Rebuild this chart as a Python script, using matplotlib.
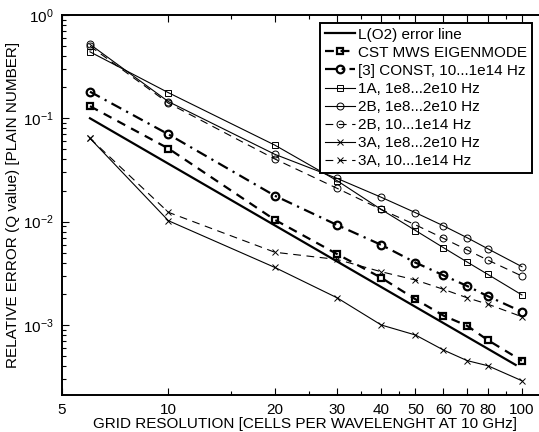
import numpy as np
import matplotlib
matplotlib.use("Agg")
import matplotlib.pyplot as plt
from matplotlib.ticker import FixedLocator, FixedFormatter, LogLocator, NullFormatter

# grid resolution (cells per wavelength)
cells = [6, 10, 20, 30, 40, 50, 60, 70, 80, 100]

# reference 2nd order error line (two end points)
o2_cells = [6, 96]
o2_err = [0.1, 4.1e-4]

cst_eigen = [0.131, 0.051, 0.0104, 0.00485, 0.00286, 0.00177, 0.00123, 0.00098, 0.000714, 0.00045]
const_ref3 = [0.181, 0.070, 0.0178, 0.00927, 0.00595, 0.00401, 0.00302, 0.00238, 0.0019, 0.00134]
a1_low = [0.44, 0.177, 0.055, 0.0249, 0.0131, 0.0082, 0.00559, 0.00406, 0.00309, 0.00195]
b2_low = [0.52, 0.145, 0.0448, 0.0262, 0.0172, 0.0122, 0.0091, 0.00698, 0.00547, 0.00366]
b2_wide = [0.50, 0.140, 0.0404, 0.021, 0.0131, 0.0093, 0.00689, 0.00531, 0.00425, 0.00297]
a3_low = [0.064, 0.0102, 0.0036, 0.00183, 0.000998, 0.000798, 0.000571, 0.000451, 0.000403, 0.000288]
a3_wide = [0.064, 0.0123, 0.00505, 0.0043, 0.00327, 0.00272, 0.00221, 0.00183, 0.00159, 0.0012]

xticks = [5, 10, 20, 30, 40, 50, 60, 70, 80, 100]
xminor = [15, 25, 35, 45, 90]

plt.rcParams['font.family'] = ['Liberation Sans', 'DejaVu Sans']
plt.rcParams['mathtext.fontset'] = 'custom'
plt.rcParams['mathtext.rm'] = 'Liberation Sans'
plt.rcParams['mathtext.it'] = 'Liberation Sans'

W, H = 539, 432
# right edge of the box sits just outside the picture, as in the original
x_right = 548
fig = plt.figure(figsize=(W / 100, H / 100), dpi=100)
ax = fig.add_axes([62 / W, 37 / H, (x_right - 62) / W, (395 - 15) / H])

thin = dict(color='black', lw=0.8, ms=5, mfc='none', mew=0.7)
ax.plot(o2_cells, o2_err, color='black', lw=1.6, label='L(O2) error line')
ax.plot(cells, cst_eigen, color='black', lw=1.6, ls=(0, (4, 3)), marker='s', ms=4.5,
        mfc='none', mew=1.6, label='CST MWS EIGENMODE')
ax.plot(cells, const_ref3, color='black', lw=1.6, ls=(0, (5, 2.5, 1, 2.5)), marker='o', ms=5.5,
        mfc='none', mew=1.6, label='[3] CONST, 10...1e14 Hz')
ax.plot(cells, a1_low, ls='-', marker='s', label='1A, 1e8...2e10 Hz', **thin)
ax.plot(cells, b2_low, ls='-', marker='o', label='2B, 1e8...2e10 Hz', **thin)
ax.plot(cells, b2_wide, ls=(0, (7, 5)), marker='o', label='2B, 10...1e14 Hz', **thin)
ax.plot(cells, a3_low, ls='-', marker='x', label='3A, 1e8...2e10 Hz', **thin)
ax.plot(cells, a3_wide, ls=(0, (7, 5)), marker='x', label='3A, 10...1e14 Hz', **thin)

ax.set_xscale('log')
ax.set_yscale('log')
ax.set_xlim(5, 5 * 10 ** ((x_right - 62) / 353.5))
ax.set_ylim(10 ** (-(395 - 15) / 103.3), 1.0)

ax.xaxis.set_major_locator(FixedLocator(xticks))
ax.xaxis.set_major_formatter(FixedFormatter([str(t) for t in xticks]))
ax.xaxis.set_minor_locator(FixedLocator(xminor))
ax.xaxis.set_minor_formatter(NullFormatter())
ax.yaxis.set_major_locator(LogLocator(base=10, numticks=10))
ax.yaxis.set_minor_locator(LogLocator(base=10, subs=np.arange(2, 10), numticks=20))
ax.yaxis.set_minor_formatter(NullFormatter())

ax.tick_params(which='both', direction='in', top=True, right=True, labelsize=11)
ax.tick_params(which='major', length=5, width=0.8, pad=6)
ax.tick_params(which='minor', length=3, width=0.8)
for s in ax.spines.values():
    s.set_linewidth(1.4)

ax.set_xlabel('GRID RESOLUTION [CELLS PER WAVELENGHT AT 10 GHz]', fontsize=11, labelpad=0)
ax.set_ylabel('RELATIVE ERROR (Q value) [PLAIN NUMBER]', fontsize=11, labelpad=2)

leg = ax.legend(loc='upper right', bbox_to_anchor=(532 / W, 1 - 23 / H),
                bbox_transform=fig.transFigure, borderaxespad=0, fontsize=11,
                handlelength=2.0, handletextpad=0.2, labelspacing=0.27,
                borderpad=0.3, fancybox=False, framealpha=1, edgecolor='black')
leg.get_frame().set_linewidth(1.4)

fig.savefig('out.png', dpi=100)
